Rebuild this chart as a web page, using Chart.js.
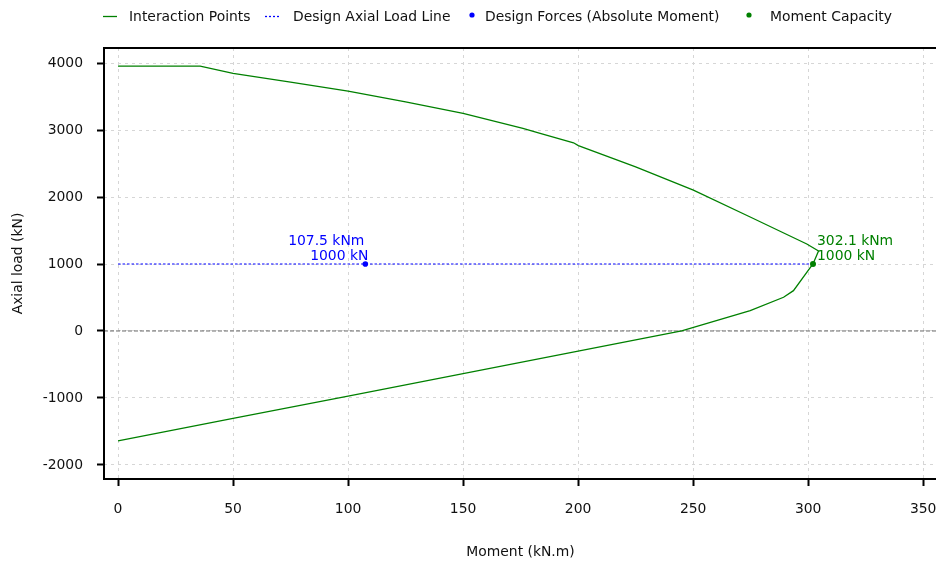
<!DOCTYPE html>
<html>
<head>
<meta charset="utf-8">
<script src="https://cdn.jsdelivr.net/npm/chart.js@4/dist/chart.umd.min.js"></script>
<style>
  html, body { margin: 0; padding: 0; background: #fff; overflow: hidden; width: 936px; height: 562px; }
  #wrap { width: 936px; height: 562px; overflow: hidden; }
  canvas { display: block; }
</style>
</head>
<body>
<div id="wrap"><canvas id="c" width="941" height="562"></canvas></div>
<script>
// ---- data ----
const interactionM = [0, 35.7, 50, 75, 100, 125, 150, 176, 183.5, 198, 200.1, 225, 250.1, 274.8, 299.4, 304.5, 302.1, 300.1, 293.6, 289.3, 274.8, 245, 200, 150, 100, 50, 0];
const interactionP = [3955, 3955, 3845, 3715, 3580, 3420, 3250, 3025, 2950, 2810, 2768, 2450, 2104, 1702, 1299, 1194, 1000, 910, 602, 503, 303, 0, -302, -637, -971, -1306, -1642];
const designLineM = [0, 302.1];
const designLineP = [1000, 1000];
const designForceM = [107.5];
const designForceP = [1000];
const capacityM = [302.1];
const capacityP = [1000];
const xTicks = [0, 50, 100, 150, 200, 250, 300, 350];
const yTicks = [-2000, -1000, 0, 1000, 2000, 3000, 4000];
const legendLabels = ['Interaction Points', 'Design Axial Load Line', 'Design Forces (Absolute Moment)', 'Moment Capacity'];

const FONT = '"DejaVu Sans", sans-serif';
const FS = 13.9;
const TXT = '#111111';
const toPts = (xs, ys) => xs.map((x, i) => ({ x: x, y: ys[i] }));

const extras = {
  id: 'extras',
  beforeDatasetsDraw(chart) {
    const { ctx, chartArea, scales } = chart;
    const y0 = scales.y.getPixelForValue(0);
    ctx.save();
    ctx.strokeStyle = '#666666';
    ctx.lineWidth = 1;
    ctx.setLineDash([4, 2]);
    ctx.beginPath();
    ctx.moveTo(chartArea.left, y0);
    ctx.lineTo(chartArea.right, y0);
    ctx.stroke();
    ctx.restore();
  },
  afterDraw(chart) {
    const { ctx, chartArea, scales } = chart;
    ctx.save();
    // axes frame
    ctx.strokeStyle = '#000';
    ctx.lineWidth = 2;
    ctx.setLineDash([]);
    ctx.beginPath();
    ctx.moveTo(chartArea.right + 1, chartArea.top);
    ctx.lineTo(chartArea.left, chartArea.top);
    ctx.lineTo(chartArea.left, chartArea.bottom);
    ctx.lineTo(chartArea.right + 1, chartArea.bottom);
    ctx.stroke();

    // annotations
    ctx.font = FS + 'px ' + FONT;
    ctx.textBaseline = 'middle';
    const bx = scales.x.getPixelForValue(designForceM[0]);
    const by = scales.y.getPixelForValue(designForceP[0]);
    ctx.fillStyle = '#0000ff';
    ctx.textAlign = 'right';
    ctx.fillText(designForceM[0].toFixed(1) + ' kNm', bx - 1, by - 23);
    ctx.fillText(designForceP[0] + ' kN', bx + 3, by - 8);
    const gx = scales.x.getPixelForValue(capacityM[0]);
    const gy = scales.y.getPixelForValue(capacityP[0]);
    ctx.fillStyle = '#008000';
    ctx.textAlign = 'left';
    ctx.fillText(capacityM[0].toFixed(1) + ' kNm', gx + 4, gy - 23);
    ctx.fillText(capacityP[0] + ' kN', gx + 4, gy - 8);

    // legend
    const ly = 17.5;
    ctx.fillStyle = TXT;
    ctx.textAlign = 'left';
    ctx.lineWidth = 1.3;
    ctx.strokeStyle = '#008000';
    ctx.beginPath(); ctx.moveTo(103, ly - 1); ctx.lineTo(117, ly - 1); ctx.stroke();
    ctx.fillText(legendLabels[0], 129, ly);
    ctx.strokeStyle = '#0000ff';
    ctx.setLineDash([2, 2]);
    ctx.beginPath(); ctx.moveTo(265, ly - 1); ctx.lineTo(281, ly - 1); ctx.stroke();
    ctx.setLineDash([]);
    ctx.fillText(legendLabels[1], 293, ly);
    ctx.fillStyle = '#0000ff';
    ctx.beginPath(); ctx.arc(472, ly - 2.5, 2.6, 0, Math.PI * 2); ctx.fill();
    ctx.fillStyle = TXT;
    ctx.fillText(legendLabels[2], 485, ly);
    ctx.fillStyle = '#008000';
    ctx.beginPath(); ctx.arc(749, ly - 2.5, 2.6, 0, Math.PI * 2); ctx.fill();
    ctx.fillStyle = TXT;
    ctx.fillText(legendLabels[3], 770, ly);
    ctx.restore();
  }
};

const gridCommon = {
  color: '#d6d6d6',
  lineWidth: 1,
  tickColor: '#000',
  tickWidth: 2,
  tickLength: 7,
  tickBorderDash: []
};

const chart = new Chart(document.getElementById('c'), {
  type: 'scatter',
  data: {
    datasets: [
      {
        label: legendLabels[0],
        data: toPts(interactionM, interactionP),
        showLine: true,
        borderColor: '#008000',
        borderWidth: 1.3,
        pointRadius: 0,
        tension: 0,
        order: 3
      },
      {
        label: legendLabels[1],
        data: toPts(designLineM, designLineP),
        showLine: true,
        borderColor: '#0000ff',
        borderWidth: 1.2,
        borderDash: [2.5, 2],
        pointRadius: 0,
        order: 2
      },
      {
        label: legendLabels[2],
        data: toPts(designForceM, designForceP),
        backgroundColor: '#0000ff',
        borderColor: '#0000ff',
        pointRadius: 2.8,
        borderWidth: 0,
        order: 1
      },
      {
        label: legendLabels[3],
        data: toPts(capacityM, capacityP),
        backgroundColor: '#008000',
        borderColor: '#008000',
        pointRadius: 3,
        borderWidth: 0,
        order: 0
      }
    ]
  },
  options: {
    responsive: false,
    animation: false,
    devicePixelRatio: 1,
    layout: { padding: { top: 48, left: 0, right: 0, bottom: 0 } },
    plugins: {
      legend: { display: false },
      tooltip: { enabled: false }
    },
    scales: {
      x: {
        type: 'linear',
        min: -6.1,
        max: 356,
        afterBuildTicks: (s) => { s.ticks = xTicks.map(v => ({ value: v })); },
        afterFit: (s) => { s.height = 83; s.paddingLeft = 0; s.paddingRight = 0; },
        grid: Object.assign({}, gridCommon),
        border: { display: false, dash: [3, 4] },
        ticks: { color: TXT, font: { family: FONT, size: FS }, padding: 15, maxRotation: 0, autoSkip: false, callback: (v) => String(v) },
        title: { display: true, text: 'Moment (kN.m)', color: TXT, font: { family: FONT, size: FS }, padding: { top: 0, bottom: 1 } }
      },
      y: {
        type: 'linear',
        min: -2210,
        max: 4225,
        afterBuildTicks: (s) => { s.ticks = yTicks.map(v => ({ value: v })); },
        afterFit: (s) => { s.width = 104; s.paddingTop = 0; s.paddingBottom = 0; },
        grid: Object.assign({}, gridCommon),
        border: { display: false, dash: [3, 4] },
        ticks: { color: TXT, font: { family: FONT, size: FS }, padding: 14, autoSkip: false, callback: (v) => String(v) },
        title: { display: true, text: 'Axial load (kN)', color: TXT, font: { family: FONT, size: FS }, padding: { top: 10, bottom: 0 } }
      }
    }
  },
  plugins: [extras]
});
</script>
</body>
</html>
